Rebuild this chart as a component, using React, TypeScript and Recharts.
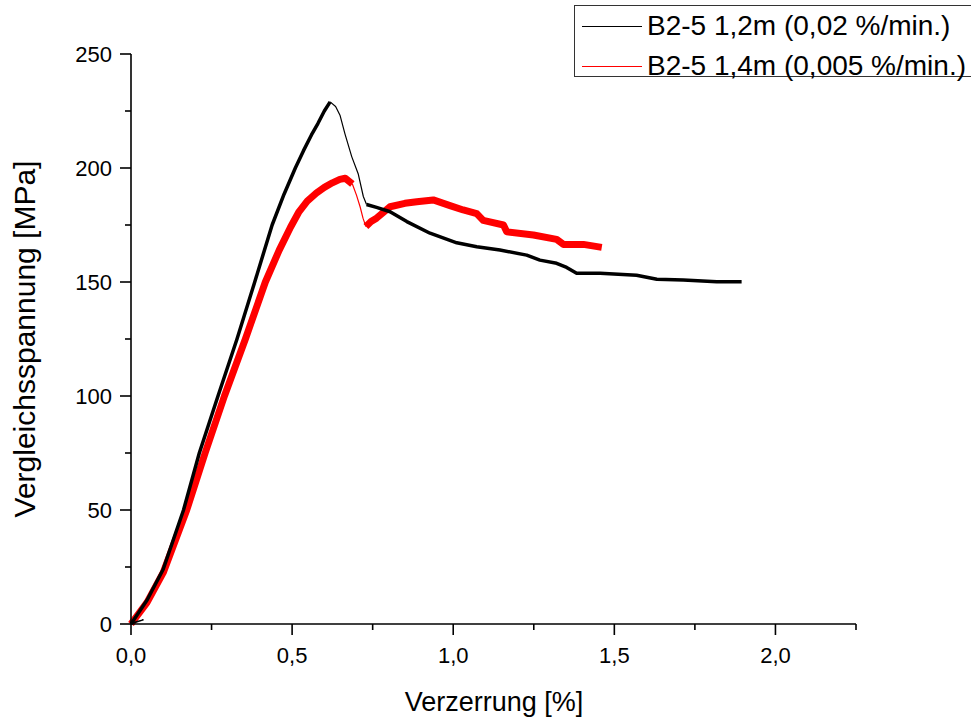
import React from "react";
import { LineChart, Line, XAxis, YAxis, Legend } from "recharts";

const FONT = '"Liberation Sans", Arial, sans-serif';

// B2-5 1,2m (0,02 %/min.) — black
const blackRiseX = [0, 0.05, 0.1, 0.163, 0.212, 0.27, 0.329, 0.384, 0.438, 0.475, 0.51, 0.535, 0.56, 0.58, 0.6, 0.618];
const blackRiseY = [0, 10.5, 24, 50, 75, 100, 125, 150, 175, 188.5, 200, 207.5, 214.5, 219.5, 225, 229];
const blackDropX = [0.618, 0.635, 0.649, 0.664, 0.685, 0.705, 0.721, 0.731];
const blackDropY = [229, 227, 223, 215, 205, 197.5, 187.5, 184];
const blackTailX = [0.731, 0.762, 0.804, 0.856, 0.928, 1.011, 1.073, 1.145, 1.228, 1.269, 1.321, 1.352, 1.383, 1.456, 1.569, 1.632, 1.714, 1.818, 1.895];
const blackTailY = [184, 182.7, 180.8, 176.5, 171.4, 167.2, 165.5, 164, 161.8, 159.6, 158.2, 156.4, 153.8, 153.8, 153, 151.2, 150.9, 150.1, 150.1];
const blackStartX = [0, 0.038, 0.005];
const blackStartY = [0, 1.8, 0.6];

// B2-5 1,4m (0,005 %/min.) — red
const redRiseX = [0, 0.05, 0.1, 0.173, 0.23, 0.29, 0.355, 0.417, 0.46, 0.495, 0.52, 0.547, 0.575, 0.6, 0.625, 0.648, 0.665, 0.687];
const redRiseY = [0, 9.5, 22.5, 50, 75, 100, 125, 150, 164, 174, 180.5, 185.5, 189, 191.5, 193.5, 195, 195.5, 193];
const redDropX = [0.687, 0.7, 0.711, 0.72, 0.729];
const redDropY = [193, 188, 183, 178, 174.3];
const redTailX = [0.729, 0.745, 0.762, 0.804, 0.85, 0.887, 0.938, 0.99, 1.031, 1.073, 1.093, 1.156, 1.166, 1.249, 1.321, 1.342, 1.404, 1.461];
const redTailY = [174.3, 176.5, 178, 183, 184.5, 185.2, 186, 183.5, 181.6, 180, 177, 175, 172, 170.6, 168.7, 166.5, 166.5, 165.2];

const xTicks = [0, 0.25, 0.5, 0.75, 1, 1.25, 1.5, 1.75, 2, 2.25];
const yTicks = [0, 25, 50, 75, 100, 125, 150, 175, 200, 225, 250];

const legendItems = [
  { label: "B2-5 1,2m (0,02 %/min.)", color: "#000000" },
  { label: "B2-5 1,4m (0,005 %/min.)", color: "#ff0000" },
];

const pts = (xs: number[], ys: number[]) => xs.map((x, i) => ({ x, y: ys[i] }));

const isMajor = (v: number, step: number) => Math.abs(v / step - Math.round(v / step)) < 1e-6;

function XTick(p: any) {
  const v = p.payload.value as number;
  const major = isMajor(v, 0.5);
  return (
    <g>
      <line x1={p.x} x2={p.x} y1={p.y} y2={p.y + (major ? 11 : 6)} stroke="#000" strokeWidth={1.6} />
      {major && (
        <text x={p.x} y={p.y + 39} textAnchor="middle" fontSize={22} fontFamily={FONT} fill="#000">
          {v.toFixed(1).replace(".", ",")}
        </text>
      )}
    </g>
  );
}

function YTick(p: any) {
  const v = p.payload.value as number;
  const major = isMajor(v, 50);
  return (
    <g>
      <line x1={p.x} x2={p.x - (major ? 11 : 6)} y1={p.y} y2={p.y} stroke="#000" strokeWidth={1.6} />
      {major && (
        <text x={p.x - 19} y={p.y + 8} textAnchor="end" fontSize={22} fontFamily={FONT} fill="#000">
          {v}
        </text>
      )}
    </g>
  );
}

function LegendBox() {
  return (
    <div style={{ position: "relative", width: 397, height: 72, boxSizing: "border-box",
      borderTop: "1px solid #333", borderLeft: "1px solid #333", borderBottom: "1px solid #333", fontFamily: FONT }}>
      {legendItems.map((it, i) => (
        <div key={it.label} style={{ position: "absolute", left: 7, top: 2 + i * 40, height: 36, display: "flex", alignItems: "center" }}>
          <span style={{ width: 60, height: 0, borderTop: `1px solid ${it.color}` }} />
          <span style={{ marginLeft: 5, fontSize: 28, lineHeight: "36px", color: "#000", whiteSpace: "nowrap" }}>{it.label}</span>
        </div>
      ))}
    </div>
  );
}

export default function App() {
  const thick = { type: "linear" as const, dot: false, isAnimationActive: false, strokeLinejoin: "round" as const, dataKey: "y" };
  return (
    <div style={{ position: "absolute", left: 0, top: 0, background: "#fff" }}>
      <LineChart width={971} height={718} margin={{ top: 54, right: 115, bottom: 0, left: 0 }}>
        <XAxis type="number" dataKey="x" domain={[0, 2.25]} ticks={xTicks} interval={0} height={94}
          axisLine={{ stroke: "#000", strokeWidth: 1.6 }} tickLine={false} tickSize={0} tickMargin={0}
          tick={<XTick />}
          label={{ content: () => (
            <text x={494} y={711} textAnchor="middle" fontSize={27} fontFamily={FONT} fill="#000">Verzerrung [%]</text>
          ) }} />
        <YAxis type="number" domain={[0, 250]} ticks={yTicks} interval={0} width={131}
          axisLine={{ stroke: "#000", strokeWidth: 1.6 }} tickLine={false} tickSize={0} tickMargin={0}
          tick={<YTick />}
          label={{ content: () => (
            <text x={35} y={339} transform="rotate(-90 35 339)" textAnchor="middle" fontSize={30} fontFamily={FONT} fill="#000">
              Vergleichsspannung [MPa]
            </text>
          ) }} />
        <Legend layout="vertical" align="center" verticalAlign="middle"
          wrapperStyle={{ position: "absolute", left: 574, top: 5, width: 397 }} content={() => <LegendBox />} />
        <Line {...thick} data={pts(redRiseX, redRiseY)} stroke="#ff0000" strokeWidth={7} />
        <Line {...thick} data={pts(redDropX, redDropY)} stroke="#ff0000" strokeWidth={1.2} />
        <Line {...thick} data={pts(redTailX, redTailY)} stroke="#ff0000" strokeWidth={7} />
        <Line {...thick} data={pts(blackStartX, blackStartY)} stroke="#000000" strokeWidth={1.2} />
        <Line {...thick} data={pts(blackRiseX, blackRiseY)} stroke="#000000" strokeWidth={3.5} />
        <Line {...thick} data={pts(blackDropX, blackDropY)} stroke="#000000" strokeWidth={1.2} />
        <Line {...thick} data={pts(blackTailX, blackTailY)} stroke="#000000" strokeWidth={3.5} />
      </LineChart>
    </div>
  );
}
